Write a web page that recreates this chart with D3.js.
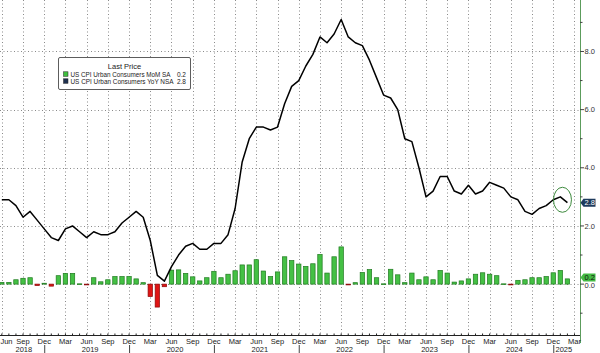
<!DOCTYPE html>
<html>
<head>
<meta charset="utf-8">
<script src="https://cdn.jsdelivr.net/npm/d3@7"></script>
<style>
  body { margin: 0; background: #fff; }
  svg { display: block; }
  text { font-family: "Liberation Sans", Arial, sans-serif; }
</style>
</head>
<body>
<svg id="chart" width="600" height="353"></svg>
<script>
// monthly data, Jun 2018 .. Feb 2025
const startYear = 2018, startMonth = 5; // June (0-based)

const yoy = [
  2.9, 2.9, 2.7, 2.3, 2.5, 2.2, 1.9,
  1.6, 1.5, 1.9, 2.0, 1.8, 1.6, 1.8, 1.7, 1.7, 1.8, 2.1, 2.3,
  2.5, 2.3, 1.5, 0.3, 0.1, 0.6, 1.0, 1.3, 1.4, 1.2, 1.2, 1.4,
  1.4, 1.7, 2.6, 4.2, 5.0, 5.4, 5.4, 5.3, 5.4, 6.2, 6.8, 7.0,
  7.5, 7.9, 8.5, 8.3, 8.6, 9.1, 8.5, 8.3, 8.2, 7.7, 7.1, 6.5,
  6.4, 6.0, 5.0, 4.9, 4.0, 3.0, 3.2, 3.7, 3.7, 3.2, 3.1, 3.4,
  3.1, 3.2, 3.5, 3.4, 3.3, 3.0, 2.9, 2.5, 2.4, 2.6, 2.7, 2.9,
  3.0, 2.8
];

const mom = [
  0.06, 0.06, 0.15, 0.2, 0.22, -0.05, 0.03,
  -0.07, 0.29, 0.37, 0.37, 0.01, -0.02, 0.22, 0.08, 0.15, 0.26, 0.26, 0.26,
  0.18, 0.05, -0.43, -0.79, -0.09, 0.48, 0.49, 0.37, 0.25, 0.11, 0.22, 0.44,
  0.22, 0.34, 0.46, 0.66, 0.66, 0.84, 0.45, 0.26, 0.42, 0.94, 0.81, 0.69,
  0.61, 0.70, 1.02, 0.38, 0.94, 1.28, -0.02, 0.05, 0.40, 0.50, 0.22, 0.01,
  0.51, 0.32, 0.05, 0.38, 0.15, 0.25, 0.15, 0.47, 0.38, 0.07, 0.11, 0.18,
  0.34, 0.39, 0.34, 0.29, 0.01, -0.02, 0.13, 0.15, 0.22, 0.22, 0.26, 0.39,
  0.47, 0.18
];

const quarterLabels = ['Jun', 'Sep', 'Dec', 'Mar'];
const years = [2018, 2019, 2020, 2021, 2022, 2023, 2024, 2025];
const yTicks = [0, 2, 4, 6, 8];
const yMinorTicks = [-1, 1, 3, 5, 7, 9];

const legendItems = [
  {name: 'US CPI Urban Consumers MoM SA', last: '0.2', color: '#3fbf3f'},
  {name: 'US CPI Urban Consumers YoY NSA', last: '2.8', color: '#1e3050'}
];

const svg = d3.select('#chart');
const plotRight = 580, plotBottom = 335;

const x = d3.scaleLinear().domain([-0.255, 81.78]).range([0, plotRight]);
const y = d3.scaleLinear().domain([-1.75, 9.77]).range([plotBottom, 0]);

// grid
const grid = svg.append('g').attr('class', 'grid');
grid.selectAll('line.h')
  .data(yTicks)
  .enter().append('line')
  .attr('class', 'h')
  .attr('x1', 0).attr('x2', plotRight)
  .attr('y1', d => Math.round(y(d)) + 0.5).attr('y2', d => Math.round(y(d)) + 0.5)
  .attr('stroke', '#8a8a8a').attr('stroke-width', 1)
  .attr('stroke-dasharray', '1,2.5');

const quarterIdx = d3.range(0, 82, 3);
grid.selectAll('line.v')
  .data(quarterIdx)
  .enter().append('line')
  .attr('class', 'v')
  .attr('x1', d => Math.round(x(d)) + 0.5).attr('x2', d => Math.round(x(d)) + 0.5)
  .attr('y1', 0).attr('y2', plotBottom)
  .attr('stroke', '#8a8a8a').attr('stroke-width', 1)
  .attr('stroke-dasharray', '1,2.5');

// bars
const bw = 4.4;
svg.append('g').attr('class', 'bars')
  .selectAll('rect')
  .data(mom)
  .enter().append('rect')
  .attr('x', (d, i) => x(i) - bw / 2)
  .attr('width', bw)
  .attr('y', d => y(Math.max(0, d)))
  .attr('height', d => Math.max(0.8, Math.abs(y(d) - y(0))))
  .attr('fill', d => d < 0 ? '#e01414' : '#44c044')
  .attr('stroke', d => d < 0 ? '#8a0a0a' : '#1f7a1f')
  .attr('stroke-width', 0.7);

// line
const line = d3.line()
  .x((d, i) => x(i))
  .y(d => y(d));

svg.append('path')
  .datum(yoy)
  .attr('d', line)
  .attr('fill', 'none')
  .attr('stroke', '#000')
  .attr('stroke-width', 1.5)
  .attr('stroke-linejoin', 'round');

// circle round the last points
svg.append('ellipse')
  .attr('cx', x(79.3)).attr('cy', y(2.9))
  .attr('rx', 9).attr('ry', 12.5)
  .attr('fill', 'none')
  .attr('stroke', '#3d8a3d')
  .attr('stroke-width', 1);

// right axis
const ax = svg.append('g').attr('class', 'yaxis');
ax.append('line')
  .attr('x1', plotRight + 0.5).attr('x2', plotRight + 0.5)
  .attr('y1', 0).attr('y2', plotBottom + 8)
  .attr('stroke', '#5c9c5c').attr('stroke-width', 1);
ax.selectAll('line.maj')
  .data(yTicks)
  .enter().append('line')
  .attr('class', 'maj')
  .attr('x1', plotRight).attr('x2', plotRight + 4)
  .attr('y1', d => y(d)).attr('y2', d => y(d))
  .attr('stroke', '#444');
ax.selectAll('line.min')
  .data(yMinorTicks)
  .enter().append('line')
  .attr('class', 'min')
  .attr('x1', plotRight).attr('x2', plotRight + 2.5)
  .attr('y1', d => y(d)).attr('y2', d => y(d))
  .attr('stroke', '#444');
ax.selectAll('text')
  .data(yTicks)
  .enter().append('text')
  .attr('x', plotRight + 4.5)
  .attr('y', d => y(d) + (d === 0 ? 3.5 : 2.7))
  .attr('font-size', 7.5)
  .style('fill', '#333')
  .text(d => d3.format('.1f')(d));

// last value tags
const tags = [
  {v: yoy[yoy.length - 1], fill: '#1e3a5c', txt: '#fff'},
  {v: mom[mom.length - 1], fill: '#44bb44', txt: '#111'}
];
const tag = svg.append('g').selectAll('g')
  .data(tags)
  .enter().append('g')
  .attr('transform', d => `translate(${plotRight + 0.5},${y(d.v) - (d.v < 1 ? 1.5 : 0)})`);
tag.append('path')
  .attr('d', 'M0,0 L3,-4 L15,-4 L15,4 L3,4 Z')
  .attr('fill', d => d.fill);
tag.append('text')
  .attr('x', 4).attr('y', 2.7)
  .attr('font-size', 7.5)
  .style('fill', d => d.txt)
  .text(d => d3.format('.1f')(d.v));

// bottom axis
const bx = svg.append('g').attr('class', 'xaxis');
bx.append('line')
  .attr('x1', 0).attr('x2', plotRight)
  .attr('y1', plotBottom + 0.5).attr('y2', plotBottom + 0.5)
  .attr('stroke', '#222').attr('stroke-width', 1);
bx.selectAll('line.mt')
  .data(d3.range(0, 82))
  .enter().append('line')
  .attr('class', 'mt')
  .attr('x1', d => x(d)).attr('x2', d => x(d))
  .attr('y1', plotBottom - 1.5).attr('y2', plotBottom + 0.5)
  .attr('stroke', '#222');
bx.selectAll('text.q')
  .data(quarterIdx)
  .enter().append('text')
  .attr('class', 'q')
  .attr('x', d => Math.max(x(d), 6.5))
  .attr('y', plotBottom + 8.5)
  .attr('text-anchor', 'middle')
  .attr('font-size', 7.5)
  .style('fill', '#222')
  .text((d, i) => quarterLabels[i % 4]);

// year labels centred on each year's span, separators at December
const yearSpan = yr => {
  const a = (yr - startYear) * 12 - startMonth - 0.5;
  const b = a + 12;
  const lo = Math.max(x(a), 0), hi = Math.min(x(b), x(yoy.length - 0.5));
  return (lo + hi) / 2;
};
bx.selectAll('text.yr')
  .data(years)
  .enter().append('text')
  .attr('class', 'yr')
  .attr('x', d => yearSpan(d))
  .attr('y', plotBottom + 16.5)
  .attr('text-anchor', 'middle')
  .attr('font-size', 7.5)
  .style('fill', '#222')
  .text(d => d);
bx.selectAll('line.sep')
  .data(years.slice(0, -1))
  .enter().append('line')
  .attr('class', 'sep')
  .attr('x1', d => x((d - startYear) * 12 - startMonth + 11) + 0.5)
  .attr('x2', d => x((d - startYear) * 12 - startMonth + 11) + 0.5)
  .attr('y1', plotBottom + 10).attr('y2', 353)
  .attr('stroke', '#444');

// legend
const lg = svg.append('g').attr('transform', 'translate(58.5,57.5)');
lg.append('rect')
  .attr('width', 132).attr('height', 32).attr('rx', 1.5)
  .attr('fill', '#fff').attr('stroke', '#333').attr('stroke-width', 0.8);
lg.append('text')
  .attr('x', 66).attr('y', 11)
  .attr('text-anchor', 'middle')
  .attr('font-size', 7.5)
  .style('fill', '#222')
  .text('Last Price');
const row = lg.selectAll('g.row')
  .data(legendItems)
  .enter().append('g')
  .attr('class', 'row')
  .attr('transform', (d, i) => `translate(0,${14 + i * 7})`);
row.append('rect')
  .attr('x', 5).attr('y', 0.3)
  .attr('width', 4.5).attr('height', 4.5)
  .attr('fill', d => d.color).attr('stroke', '#222').attr('stroke-width', 0.5);
row.append('text')
  .attr('x', 12).attr('y', 5)
  .attr('font-size', 6.5)
  .attr('textLength', (d, i) => i === 0 ? 100 : 103)
  .attr('lengthAdjust', 'spacingAndGlyphs')
  .style('fill', '#222')
  .text(d => d.name);
row.append('text')
  .attr('x', 127.5).attr('y', 5)
  .attr('text-anchor', 'end')
  .attr('font-size', 6.5)
  .style('fill', '#222')
  .text(d => d.last);
</script>
</body>
</html>
